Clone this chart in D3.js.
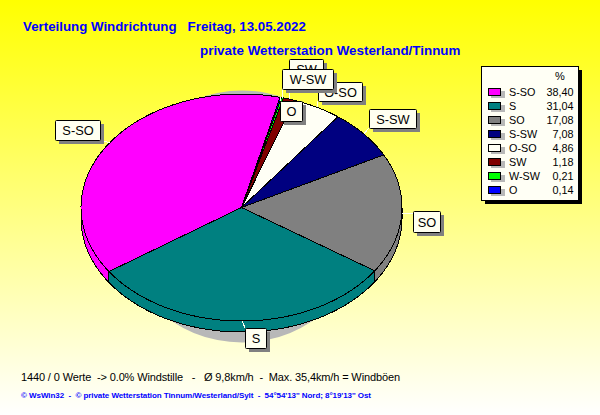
<!DOCTYPE html>
<html><head><meta charset="utf-8">
<script src="https://cdn.jsdelivr.net/npm/d3@7/dist/d3.min.js"></script>
<style>
html,body{margin:0;padding:0;background:#fff}
svg{display:block}
text{font-family:"Liberation Sans",Arial,sans-serif;white-space:pre}
</style></head><body>
<svg id="c" width="600" height="415"></svg>
<script>
const categories = ["S-SO","S","SO","S-SW","O-SO","SW","W-SW","O"];
const percents   = [38.40,31.04,17.08,7.08,4.86,1.18,0.21,0.14];
const colours    = ["#ff00ff","#008080","#808080","#000080","#fffff5","#800000","#00ff00","#0000ff"];
const titleLine1 = "Verteilung Windrichtung   Freitag, 13.05.2022";
const titleLine2 = "private Wetterstation Westerland/Tinnum";
const footLine1  = "1440 / 0 Werte  -> 0.0% Windstille   -   Ø 9,8km/h  -  Max. 35,4km/h = Windböen";
const footLine2  = "© WsWin32  -  © private Wetterstation Tinnum/Westerland/Sylt  -  54°54'13'' Nord; 8°19'13'' Ost";

// layout (separate from the data)
const labelBoxes = {
  "SW":[289,59,34,20], "O-SO":[318,82,44,19], "W-SW":[282,69,51,20], "O":[280,101,22,20],
  "S-SW":[369,109,47,19], "SO":[413,211,27,21], "S":[245,328,21,20], "S-SO":[55,120,45,20]
};
const labelOrder = ["S-SO","S","SO","S-SW","SW","O-SO","W-SW","O"];

const svg = d3.select("#c");
const defs = svg.append("defs");
const g = defs.append("linearGradient").attr("id","bg").attr("x1",0).attr("x2",0).attr("y1",0).attr("y2",1);
g.append("stop").attr("offset",0).attr("stop-color","#ffff00");
g.append("stop").attr("offset",1).attr("stop-color","#ffffff");
svg.append("rect").attr("width",600).attr("height",415).attr("fill","url(#bg)");

// titles
svg.append("text").attr("x",23).attr("y",30.5).attr("fill","#0000ff").attr("font-weight","bold").attr("font-size",13.3).text(titleLine1);
svg.append("text").attr("x",200).attr("y",54.5).attr("fill","#0000ff").attr("font-weight","bold").attr("font-size",13.4).text(titleLine2);

// pie
const cx=241.5, cy=207.5, rx=160.5, ry=113.5, depth=11;
const rad=d=>d*Math.PI/180;
const pie=d3.pie().sort(null).startAngle(rad(13.9)).endAngle(rad(13.9-360));
const arcs=pie(percents).map((d,i)=>({...d,name:categories[i],colour:colours[i]}));
const ex=a=>cx+rx*Math.sin(a), ey=a=>cy-ry*Math.cos(a);
const line=d3.line().x(p=>p[0]).y(p=>p[1]);
const samples=(a0,a1)=>{const n=Math.max(2,Math.ceil(Math.abs(a1-a0)/0.01));
  return d3.range(n+1).map(k=>a0+(a1-a0)*k/n);};

// round shadow behind the pie
svg.append("circle").attr("cx",242).attr("cy",216.5).attr("r",126).attr("fill","#b8b8b8");

// side walls: front half of the ellipse only
const front0=Math.PI/2, front1=3*Math.PI/2, TAU=2*Math.PI;
const wallG=svg.append("g").attr("shape-rendering","crispEdges");
arcs.forEach(d=>{
  for(const shift of [0,-TAU]){
    const hi=d.startAngle, lo=d.endAngle;
    const s=Math.max(lo-shift,front0), e=Math.min(hi-shift,front1);
    if(e>s){
      const top=samples(s,e).map(a=>[ex(a),ey(a)]);
      const bot=samples(e,s).map(a=>[ex(a),ey(a)+depth]);
      wallG.append("path").attr("d",line(top.concat(bot))+"Z")
        .attr("fill",d.colour).attr("stroke","#000").attr("stroke-width",1);
    }
  }
});
// top face
const topG=svg.append("g").attr("shape-rendering","crispEdges");
arcs.forEach(d=>{
  const pts=[[cx,cy]].concat(samples(d.startAngle,d.endAngle).map(a=>[ex(a),ey(a)]));
  topG.append("path").attr("d",line(pts)+"Z").attr("fill",d.colour)
    .attr("stroke","#000").attr("stroke-width",1).attr("stroke-linejoin","round");
});

// leader lines and label boxes
const byName=Object.fromEntries(arcs.map(d=>[d.name,d]));
const leaderG=svg.append("g").attr("shape-rendering","crispEdges");
labelOrder.forEach(n=>{
  const d=byName[n], b=labelBoxes[n], m=(d.startAngle+d.endAngle)/2;
  const px=ex(m), py=ey(m);
  const qx=Math.max(b[0],Math.min(b[0]+b[2],px)), qy=Math.max(b[1],Math.min(b[1]+b[3],py));
  leaderG.append("line").attr("x1",px).attr("y1",py).attr("x2",qx).attr("y2",qy)
    .attr("stroke","#fffff0").attr("stroke-width",1);
});
const labG=svg.append("g");
labelOrder.forEach(n=>{
  const b=labelBoxes[n];
  labG.append("rect").attr("x",b[0]+4).attr("y",b[1]+4).attr("width",b[2]).attr("height",b[3]).attr("fill","#808080");
  labG.append("rect").attr("x",b[0]+.5).attr("y",b[1]+.5).attr("width",b[2]).attr("height",b[3])
    .attr("rx",1).attr("fill","#fffff0").attr("stroke","#000");
  labG.append("text").attr("x",b[0]+b[2]/2+.5).attr("y",b[1]+b[3]/2+5).attr("text-anchor","middle")
    .attr("font-size",12.8).attr("fill","#000").text(n);
});

// legend
const lx=481, ly=66, lw=97, lh=134;
svg.append("rect").attr("x",lx+4).attr("y",ly+4).attr("width",lw).attr("height",lh).attr("fill","#000");
svg.append("rect").attr("x",lx+.5).attr("y",ly+.5).attr("width",lw).attr("height",lh).attr("fill","#fffff5").attr("stroke","#000");
svg.append("text").attr("x",560).attr("y",80).attr("text-anchor","middle").attr("font-size",11).text("%");
const rowY=d3.scaleBand().domain(categories).range([85,197]);
const comma=v=>d3.format(".2f")(v).replace(".",",");
categories.forEach((c,i)=>{
  const y=rowY(c)+rowY.bandwidth()/2;
  svg.append("rect").attr("x",491).attr("y",y-1).attr("width",14).attr("height",7).attr("fill","#b8b8b8");
  svg.append("rect").attr("x",488.5).attr("y",y-3.5).attr("width",12).attr("height",7).attr("fill",colours[i]).attr("stroke","#000");
  svg.append("text").attr("x",509).attr("y",y+4).attr("font-size",10.8).text(c);
  svg.append("text").attr("x",573.5).attr("y",y+4).attr("text-anchor","end").attr("font-size",10.8).text(comma(percents[i]));
});

// footer
svg.append("text").attr("x",21).attr("y",381).attr("font-size",11).attr("textLength",379).attr("lengthAdjust","spacing").attr("fill","#000").text(footLine1);
svg.append("text").attr("x",21).attr("y",397.5).attr("font-size",8).attr("font-weight","bold").attr("textLength",350).attr("lengthAdjust","spacing").attr("fill","#0000ff").text(footLine2);
</script>
</body></html>
